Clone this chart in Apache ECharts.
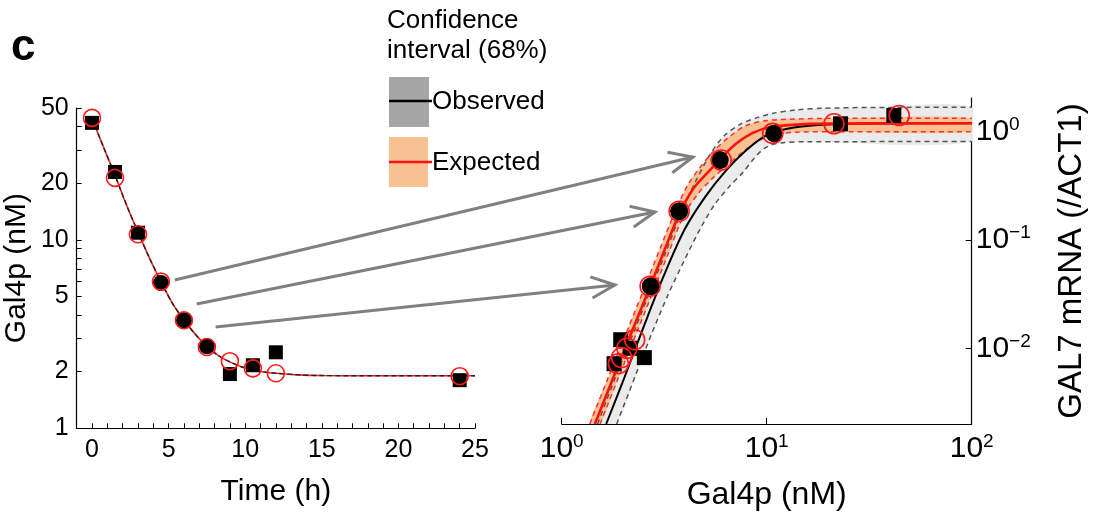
<!DOCTYPE html>
<html><head><meta charset="utf-8">
<script src="https://cdn.jsdelivr.net/npm/echarts@6/dist/echarts.min.js"></script>
<style>html,body{margin:0;padding:0;background:#fff}#c{width:1095px;height:519px}</style>
</head><body><div id="c"></div>
<script>
// ---------- data ----------
const timeH      = [0, 1.5, 3, 4.5, 6, 7.5, 9, 10.5, 12, 24];
const obsGal4p   = [41.7, 22.9, 10.9, 5.9, 3.74, 2.72, 1.94, 2.16, 2.53, 1.8];
const expGal4p   = [44.3, 21.3, 10.7, 6.0, 3.74, 2.7, 2.27, 2.08, 1.96, 1.89];
const gal7mRNA   = [1.42, 1.19, 0.97, 0.55, 0.185, 0.0375, 0.012, 0.0100, 0.0082, 0.0072];
const leftShape  = ['rect','rect','rect','circle','circle','circle','rect','rect','rect','rect'];
const rightShape = ['rect','rect','circle','circle','circle','circle','rect','rect','rect','rect'];

// fitted decay of Gal4p over time
const fitT = [0, 0.75, 1.5, 2.25, 3, 3.75, 4.5, 5.25, 6, 6.75, 7.5, 8.25, 9, 9.75, 10.5, 11.25, 12, 13.5, 15, 17.5, 20, 25];
const fitG = [44, 31, 22, 15.3, 11, 8.0, 6.0, 4.6, 3.75, 3.15, 2.72, 2.43, 2.25, 2.12, 2.04, 1.99, 1.96, 1.92, 1.905, 1.9, 1.9, 1.9];

// dose-response curves, given as [log10 Gal4p, log10 mRNA]
const obsFitLog = [[0.217,-2.70],[0.30,-2.30],[0.40,-1.80],[0.50,-1.32],[0.60,-0.90],[0.70,-0.60],[0.80,-0.36],[0.90,-0.17],[1.0,-0.03],[1.1,0.03],[1.25,0.065],[1.5,0.078],[2.0,0.08]];
const expFitLog = [[0.162,-2.70],[0.25,-2.28],[0.35,-1.81],[0.431,-1.43],[0.50,-1.10],[0.573,-0.76],[0.64,-0.53],[0.70,-0.40],[0.769,-0.26],[0.85,-0.11],[0.93,-0.01],[1.016,0.043],[1.15,0.068],[1.3,0.077],[2.0,0.08]];
const obsCIupLog = [[0.175,-2.70],[0.26,-2.28],[0.36,-1.81],[0.44,-1.43],[0.51,-1.10],[0.58,-0.76],[0.65,-0.47],[0.72,-0.22],[0.79,-0.04],[0.87,0.07],[0.95,0.13],[1.032,0.173],[1.15,0.205],[1.276,0.219],[1.5,0.226],[2.0,0.228]];
const obsCIloLog = [[0.268,-2.70],[0.36,-2.25],[0.44,-1.86],[0.52,-1.50],[0.60,-1.18],[0.68,-0.88],[0.75,-0.66],[0.82,-0.50],[0.886,-0.37],[0.94,-0.24],[0.983,-0.16],[1.03,-0.115],[1.081,-0.099],[1.2,-0.09],[2.0,-0.089]];
const expCIupLog = [[0.137,-2.70],[0.225,-2.28],[0.325,-1.81],[0.406,-1.43],[0.475,-1.10],[0.548,-0.76],[0.612,-0.50],[0.67,-0.34],[0.74,-0.18],[0.82,-0.04],[0.90,0.06],[1.0,0.105],[1.15,0.12],[1.3,0.126],[2.0,0.127]];
const expCIloLog = [[0.187,-2.70],[0.275,-2.28],[0.375,-1.81],[0.456,-1.43],[0.525,-1.10],[0.598,-0.76],[0.67,-0.56],[0.73,-0.44],[0.80,-0.32],[0.88,-0.19],[0.96,-0.08],[1.05,-0.02],[1.15,-0.002],[1.3,0.003],[2.0,0.003]];

// axis ticks
const leftXLabels = [0, 5, 10, 15, 20, 25];
const leftXTicks  = [0,1,2,3,4,5,6,7,8,9,10,11,12,13,14,15,16,17,18,19,20,21,22,23,24,25];
const leftYLabels = [1, 2, 5, 10, 20, 50];
const leftYTicks  = [1,2,3,4,5,6,7,8,9,10,20,30,40,50];
const rightXExp   = [0, 1, 2];
const rightYExp   = [-2, -1, 0];

// arrows: [time, Gal4p] -> [Gal4p, mRNA]
const arrowFrom = [[5.40, 6.12], [6.83, 4.56], [8.07, 3.45]];
const arrowTo   = [[4.37, 0.587], [2.85, 0.182], [1.82, 0.0385]];

// ---------- chart ----------
const L = Math.log10;
const FONT = 'Liberation Sans, Arial, sans-serif';
const chart = echarts.init(document.getElementById('c'), null, {renderer: 'canvas'});

function supLabel(e) {
  const s = e < 0 ? '\u2212' + (-e) : String(e);
  return '{b|10}{s|' + s + '}';
}
const rich = {
  b: {fontSize: 30, fontFamily: FONT, color: '#000'},
  s: {fontSize: 19, fontFamily: FONT, color: '#000', verticalAlign: 'top', padding: [0, 0, 14, 0]}
};

function bandSeries(up, lo, fill) {
  return {
    type: 'custom', xAxisIndex: 1, yAxisIndex: 1, clip: true, silent: true, z: 1,
    data: [[0, 0]],
    renderItem: function (params, api) {
      const pts = up.map(p => api.coord(p)).concat(lo.slice().reverse().map(p => api.coord(p)));
      return {type: 'polygon', shape: {points: pts, smooth: 0.3}, style: {fill: fill, stroke: null}};
    }
  };
}
function dashSeries(pts, color, z) {
  return {
    type: 'line', xAxisIndex: 1, yAxisIndex: 1, data: pts, showSymbol: false, smooth: 0.3, silent: true, z: z,
    lineStyle: {color: color, width: 1.5, type: [5, 4]}
  };
}

const axisLineStyle = {show: true, onZero: false, lineStyle: {color: '#000', width: 1.2}};

const option = {
  animation: false,
  grid: [
    {left: 76.7, right: 620, top: 108, bottom: 90.7},
    {left: 561.7, right: 123.3, top: 98, bottom: 95}
  ],
  xAxis: [
    {
      type: 'value', gridIndex: 0, min: -1, max: 25,
      axisLine: axisLineStyle,
      axisTick: {inside: true, length: 5, customValues: leftXTicks, lineStyle: {color: '#000'}},
      axisLabel: {customValues: leftXLabels, fontSize: 25, fontFamily: FONT, color: '#000', margin: 9},
      splitLine: {show: false},
      name: 'Time (h)', nameLocation: 'middle', nameGap: 48,
      nameTextStyle: {fontSize: 30, fontFamily: FONT, color: '#000'}
    },
    {
      type: 'value', gridIndex: 1, min: 0, max: 2,
      axisLine: axisLineStyle,
      axisTick: {inside: true, length: 6, customValues: rightXExp, lineStyle: {color: '#000'}},
      axisLabel: {customValues: rightXExp, margin: 8, formatter: v => supLabel(Math.round(v)), rich: rich},
      splitLine: {show: false},
      name: 'Gal4p (nM)', nameLocation: 'middle', nameGap: 55,
      nameTextStyle: {fontSize: 32, fontFamily: FONT, color: '#000'}
    }
  ],
  yAxis: [
    {
      type: 'value', gridIndex: 0, min: 0, max: L(50),
      axisLine: axisLineStyle,
      axisTick: {inside: true, length: 5, customValues: leftYTicks.map(L), lineStyle: {color: '#000'}},
      axisLabel: {customValues: leftYLabels.map(L), fontSize: 25, fontFamily: FONT, color: '#000', margin: 8,
                  formatter: v => String(Math.round(Math.pow(10, v)))},
      splitLine: {show: false},
      name: 'Gal4p (nM)', nameLocation: 'middle', nameGap: 45, nameRotate: 90,
      nameTextStyle: {fontSize: 30, fontFamily: FONT, color: '#000'}
    },
    {
      type: 'value', gridIndex: 1, position: 'right', min: -2.70, max: 0.314,
      axisLine: axisLineStyle,
      axisTick: {inside: true, length: 6, customValues: rightYExp, lineStyle: {color: '#000'}},
      axisLabel: {customValues: rightYExp, margin: 4, formatter: v => supLabel(Math.round(v)), rich: rich},
      splitLine: {show: false},
      name: 'GAL7 mRNA (/ACT1)', nameLocation: 'middle', nameGap: 84, nameRotate: 90,
      nameTextStyle: {fontSize: 33, fontFamily: FONT, color: '#000'}
    }
  ],
  series: [
    // ---- left panel ----
    {type: 'line', xAxisIndex: 0, yAxisIndex: 0, data: fitT.map((t, i) => [t, L(fitG[i])]),
     showSymbol: false, smooth: 0.3, lineStyle: {color: '#ff2020', width: 1.6}, z: 3},
    {type: 'line', xAxisIndex: 0, yAxisIndex: 0, data: fitT.map((t, i) => [t, L(fitG[i])]),
     showSymbol: false, smooth: 0.3, lineStyle: {color: '#222', width: 1.4, type: [5, 3]}, z: 4},
    {type: 'scatter', xAxisIndex: 0, yAxisIndex: 0, z: 5,
     data: timeH.map((t, i) => ({value: [t, L(obsGal4p[i])], symbol: leftShape[i],
                                symbolSize: leftShape[i] === 'rect' ? 14 : 16})),
     itemStyle: {color: '#000', opacity: 1}},
    {type: 'scatter', xAxisIndex: 0, yAxisIndex: 0, z: 6, symbol: 'circle', symbolSize: 17,
     data: timeH.map((t, i) => [t, L(expGal4p[i])]),
     itemStyle: {color: 'rgba(0,0,0,0)', borderColor: '#ff1a1a', borderWidth: 1.6, opacity: 1}},

    // ---- right panel ----
    bandSeries(obsCIupLog, obsCIloLog, '#ebebeb'),
    dashSeries(obsCIupLog, '#555', 2),
    dashSeries(obsCIloLog, '#555', 2),
    bandSeries(expCIupLog, expCIloLog, '#f8c18f'),
    dashSeries(expCIupLog, '#ff3030', 3),
    dashSeries(expCIloLog, '#ff3030', 3),
    {type: 'line', xAxisIndex: 1, yAxisIndex: 1, data: obsFitLog, showSymbol: false, smooth: 0.3, z: 4,
     lineStyle: {color: '#000', width: 2}},
    {type: 'line', xAxisIndex: 1, yAxisIndex: 1, data: expFitLog, showSymbol: false, smooth: 0.3, z: 5,
     lineStyle: {color: '#ff1010', width: 2.6}},
    {type: 'scatter', xAxisIndex: 1, yAxisIndex: 1, z: 6,
     data: obsGal4p.map((g, i) => ({value: [L(g), L(gal7mRNA[i])], symbol: rightShape[i],
                                   symbolSize: rightShape[i] === 'rect' ? 15 : 18})),
     itemStyle: {color: '#000', opacity: 1}},
    {type: 'scatter', xAxisIndex: 1, yAxisIndex: 1, z: 7, symbol: 'circle', symbolSize: 20,
     data: expGal4p.map((g, i) => [L(g), L(gal7mRNA[i])]),
     itemStyle: {color: 'rgba(0,0,0,0)', borderColor: '#ff1a1a', borderWidth: 1.6, opacity: 1}}
  ]
};
chart.setOption(option);

// ---------- annotations: legend, panel letter, arrows ----------
function arrowGraphics() {
  const out = [];
  for (let i = 0; i < arrowFrom.length; i++) {
    const a = chart.convertToPixel({gridIndex: 0}, [arrowFrom[i][0], L(arrowFrom[i][1])]);
    const b = chart.convertToPixel({gridIndex: 1}, [L(arrowTo[i][0]), L(arrowTo[i][1])]);
    const ang = Math.atan2(b[1] - a[1], b[0] - a[0]);
    const hl = 26, hw = 0.42;
    const p1 = [b[0] - hl * Math.cos(ang - hw), b[1] - hl * Math.sin(ang - hw)];
    const p2 = [b[0] - hl * Math.cos(ang + hw), b[1] - hl * Math.sin(ang + hw)];
    out.push({type: 'line', shape: {x1: a[0], y1: a[1], x2: b[0], y2: b[1]},
              style: {stroke: '#808080', lineWidth: 3}, z: 10});
    out.push({type: 'polyline', shape: {points: [p1, b, p2]},
              style: {stroke: '#808080', lineWidth: 3, fill: null}, z: 10});
  }
  return out;
}
const legendFont = '26px ' + FONT;
chart.setOption({
  graphic: [
    {type: 'text', left: 11, top: 26, style: {text: 'c', font: 'bold 44px ' + FONT, fill: '#000'}},
    {type: 'text', x: 387, y: 21, style: {text: 'Confidence', font: legendFont, fill: '#000', textVerticalAlign: 'middle'}},
    {type: 'text', x: 387, y: 51, style: {text: 'interval (68%)', font: legendFont, fill: '#000', textVerticalAlign: 'middle'}},
    {type: 'rect', shape: {x: 389, y: 77, width: 40, height: 50}, style: {fill: '#a6a6a6'}},
    {type: 'line', shape: {x1: 389, y1: 101, x2: 432, y2: 101}, style: {stroke: '#000', lineWidth: 2.5}},
    {type: 'text', x: 432, y: 102, style: {text: 'Observed', font: legendFont, fill: '#000', textVerticalAlign: 'middle'}},
    {type: 'rect', shape: {x: 389, y: 137, width: 39, height: 50}, style: {fill: '#f8c191'}},
    {type: 'line', shape: {x1: 389, y1: 162, x2: 432, y2: 162}, style: {stroke: '#ff1010', lineWidth: 2.5}},
    {type: 'text', x: 432, y: 163, style: {text: 'Expected', font: legendFont, fill: '#000', textVerticalAlign: 'middle'}}
  ].concat(arrowGraphics())
});
</script>
</body></html>
